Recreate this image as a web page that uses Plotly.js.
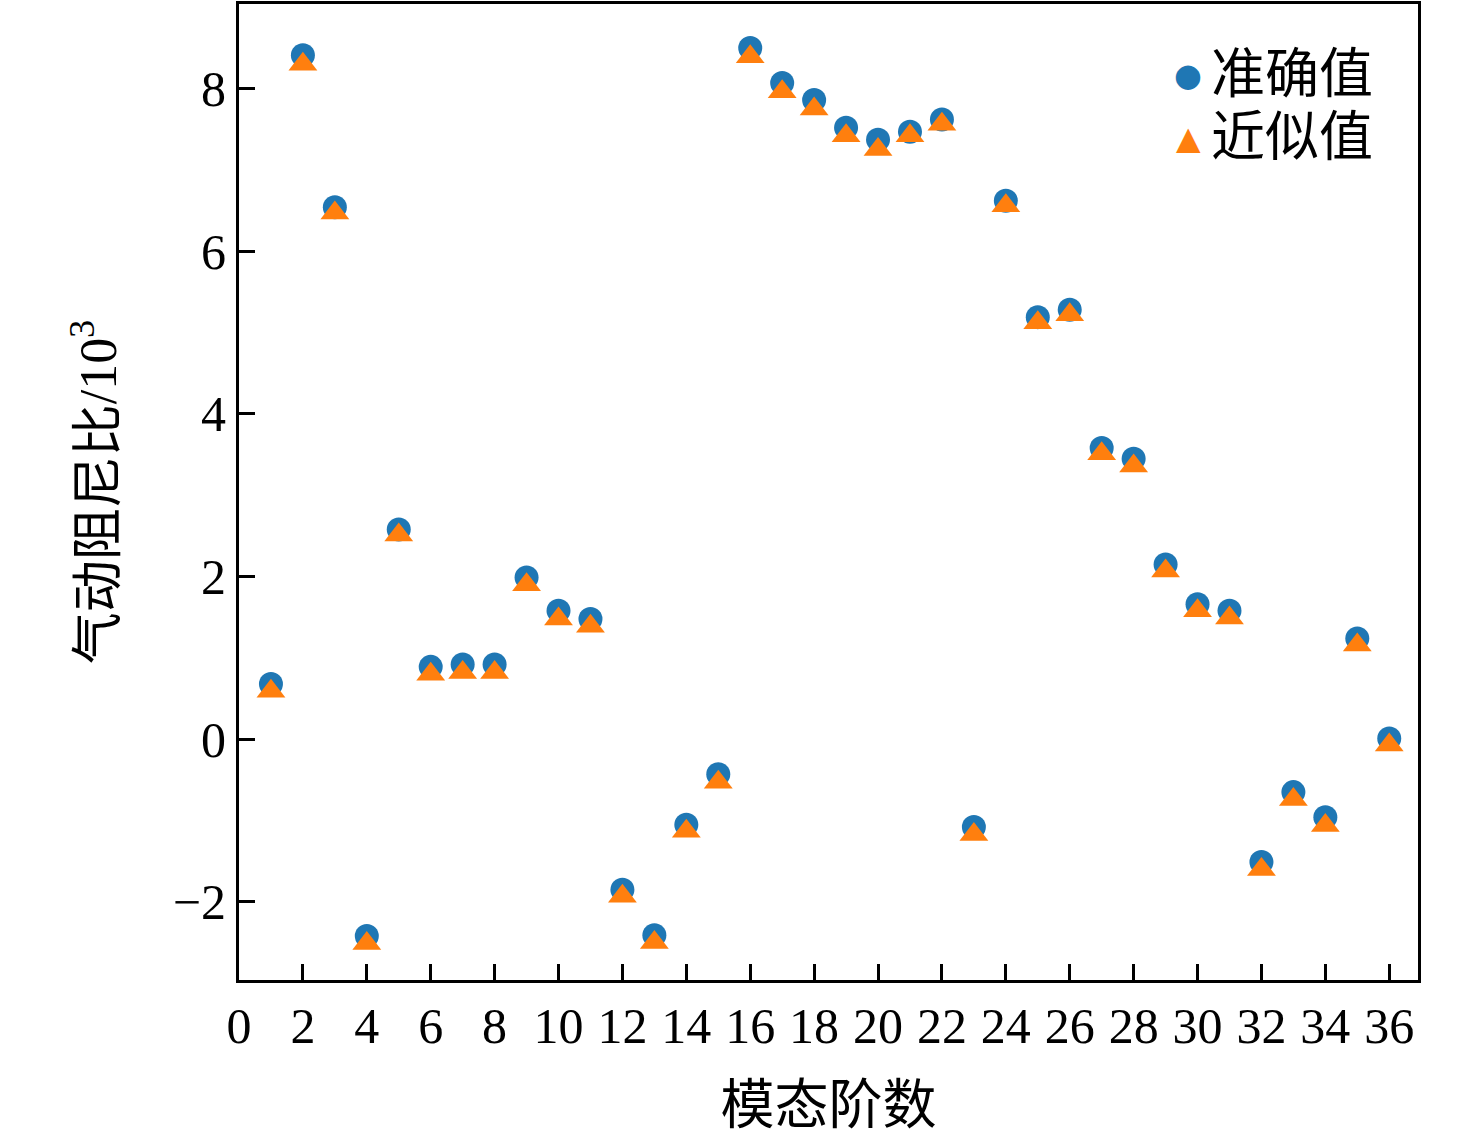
<!DOCTYPE html>
<html>
<head>
<meta charset="utf-8">
<script src="https://cdn.plot.ly/plotly-3.0.1.min.js"></script>
<style>
  body { margin: 0; background: #fff; }
  #chart { width: 1476px; height: 1142px; }
</style>
</head>
<body>
<div id="chart"></div>
<script>
// mode order 1..36
let modes = [];
for (let i = 1; i <= 36; i++) modes.push(i);

// exact aerodynamic damping ratio (x10^3)
let exactVals = [0.68, 8.41, 6.54, -2.42, 2.58, 0.89, 0.92, 0.92, 1.99, 1.58,
                 1.48, -1.85, -2.41, -1.05, -0.43, 8.50, 8.07, 7.86, 7.52, 7.37,
                 7.47, 7.62, -1.08, 6.62, 5.19, 5.28, 3.58, 3.45, 2.15, 1.66,
                 1.58, -1.51, -0.65, -0.96, 1.24, 0.01];

// approximate values
let approxVals = [0.59, 8.30, 6.47, -2.51, 2.51, 0.80, 0.82, 0.82, 1.90, 1.48,
                  1.39, -1.93, -2.50, -1.13, -0.53, 8.39, 7.96, 7.75, 7.42, 7.25,
                  7.42, 7.56, -1.17, 6.56, 5.12, 5.22, 3.51, 3.36, 2.07, 1.58,
                  1.49, -1.60, -0.74, -1.06, 1.16, -0.07];

let seriesNames = ["准确值", "近似值"];
let seriesColors = ["#1f77b4", "#ff7f0e"];

let xTicks = [0, 2, 4, 6, 8, 10, 12, 14, 16, 18, 20, 22, 24, 26, 28, 30, 32, 34, 36];
let yTicks = [-2, 0, 2, 4, 6, 8];

let fontFam = "Liberation Serif, 'Noto Sans CJK SC', serif";

let traces = [
    {
        type: "scatter",
        mode: "markers",
        x: modes,
        y: exactVals,
        name: seriesNames[0],
        marker: { symbol: "circle", size: 24, color: seriesColors[0] }
    },
    {
        type: "scatter",
        mode: "markers",
        x: modes,
        y: approxVals,
        name: seriesNames[1],
        marker: { symbol: "triangle-up", size: 25, color: seriesColors[1] }
    }
];

// legend drawn as text so the symbols can be as big as the markers
let glyphs = ["●", "▲"];
let legendRows = [0.927, 0.863];
let legendNotes = [];
seriesNames.forEach((name, i) => {
    legendNotes.push({
        xref: "paper", yref: "paper",
        x: 0.805, y: legendRows[i],
        xanchor: "center", yanchor: "middle",
        showarrow: false,
        text: glyphs[i],
        font: { family: "DejaVu Sans", size: 32, color: seriesColors[i] }
    });
    legendNotes.push({
        xref: "paper", yref: "paper",
        x: 0.823, y: legendRows[i],
        xanchor: "left", yanchor: "middle",
        showarrow: false,
        text: name,
        font: { family: fontFam, size: 54, color: "black" }
    });
});

let axisCommon = {
    showgrid: false,
    zeroline: false,
    showline: true,
    linecolor: "black",
    linewidth: 3,
    mirror: true,
    ticks: "inside",
    ticklen: 16,
    tickwidth: 3,
    tickcolor: "black",
    tickfont: { family: fontFam, size: 50, color: "black" }
};

let layout = {
    width: 1476,
    height: 1142,
    margin: { l: 239, r: 58, t: 4, b: 162 },
    paper_bgcolor: "white",
    plot_bgcolor: "white",
    font: { family: fontFam, color: "black" },
    showlegend: false,
    annotations: legendNotes,
    xaxis: Object.assign({}, axisCommon, {
        range: [0, 36.9],
        tickvals: xTicks,
        ticktext: xTicks.map(String),
        title: { text: "模态阶数", font: { family: fontFam, size: 54 }, standoff: 34 }
    }),
    yaxis: Object.assign({}, axisCommon, {
        range: [-2.96, 9.04],
        tickvals: yTicks,
        ticktext: yTicks.map(v => v < 0 ? "\u2212" + Math.abs(v) : String(v)),
        title: { text: "气动阻尼比/10<sup>3</sup>", font: { family: fontFam, size: 52 }, standoff: 40 }
    })
};

Plotly.newPlot("chart", traces, layout, { displayModeBar: false });
</script>
</body>
</html>
